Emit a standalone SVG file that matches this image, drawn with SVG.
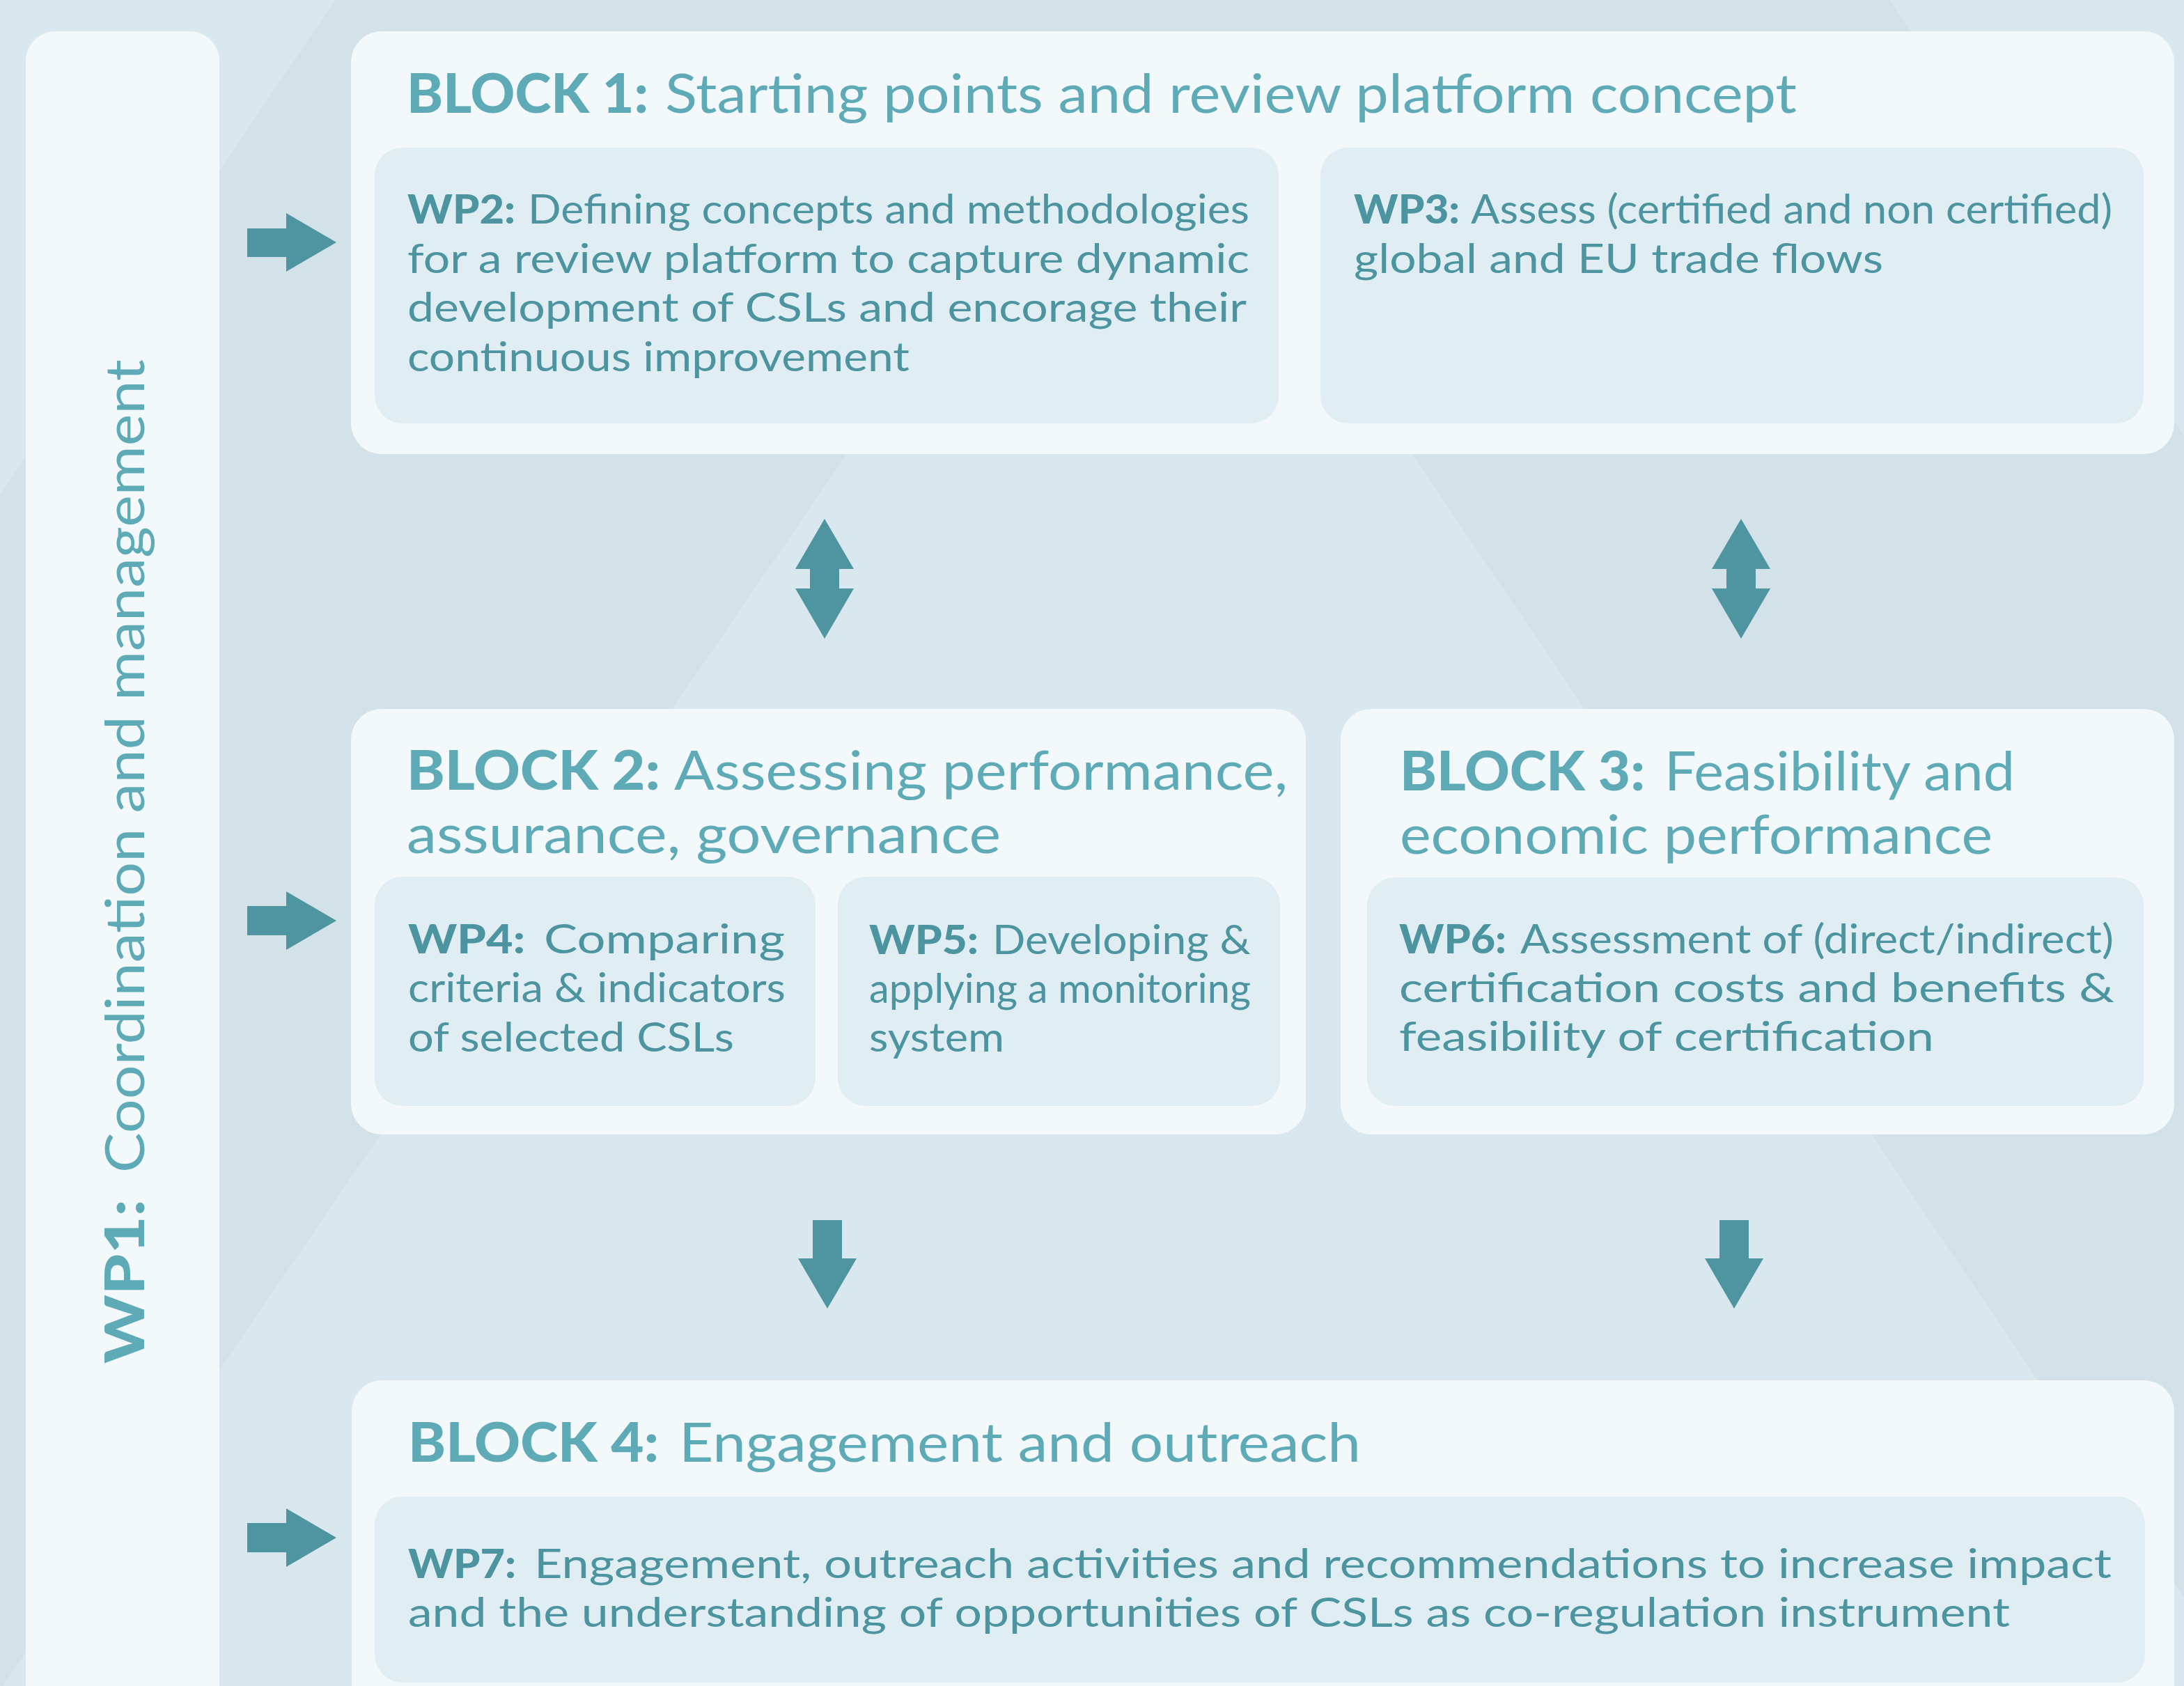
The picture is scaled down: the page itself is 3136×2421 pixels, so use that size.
<svg xmlns="http://www.w3.org/2000/svg" width="3136" height="2421" viewBox="0 0 3136 2421">
<style>
.bg{fill:#d3e1e8}
.bgl{fill:#d9e7ee}
.panel{fill:#f3f8fa}
.box{fill:#e0edf2}
.h{font-family:Lato,"Noto Sans",sans-serif;font-size:78px;fill:#5eaab7}
.t{font-family:Lato,"Noto Sans",sans-serif;font-size:58px;fill:#4b94a0}
.b{font-weight:900}
.arrow{fill:#4e95a1}
</style>
<g id="background">
<rect class="bg" x="0" y="0" width="3136" height="2421"/>
<polygon class="bgl" points="0,0 481,0 0,711"/>
<polygon class="bgl" points="1625,55 3222,2421 4,2421"/>
<polygon class="bgl" points="2714,0 3136,0 3136,625"/>
</g>
<g id="wp1">
<rect class="panel" x="37" y="45" width="278" height="2440" rx="42"/>
<text class="h" transform="translate(207,1958) rotate(-90)"><tspan class="b" x="0" y="0" textLength="236" lengthAdjust="spacingAndGlyphs">WP1:</tspan><tspan x="274" y="0" textLength="1168" lengthAdjust="spacingAndGlyphs">Coordination and management</tspan></text>
</g>
<g id="block1">
<rect class="panel" x="504" y="45" width="2618" height="607" rx="44"/>
<text class="h"><tspan class="b" x="584" y="162" textLength="347" lengthAdjust="spacingAndGlyphs">BLOCK 1:</tspan><tspan x="955" y="162" textLength="1625" lengthAdjust="spacingAndGlyphs">Starting points and review platform concept</tspan></text>
</g>
<g id="wp2">
<rect class="box" x="538" y="212" width="1298" height="396" rx="40"/>
<text class="t"><tspan class="b" x="585" y="321" textLength="155" lengthAdjust="spacingAndGlyphs">WP2:</tspan><tspan x="758" y="321" textLength="1036" lengthAdjust="spacingAndGlyphs">Defining concepts and methodologies</tspan><tspan x="585" y="392" textLength="1209" lengthAdjust="spacingAndGlyphs">for a review platform to capture dynamic</tspan><tspan x="585" y="462" textLength="1205" lengthAdjust="spacingAndGlyphs">development of CSLs and encorage their</tspan><tspan x="585" y="533" textLength="721" lengthAdjust="spacingAndGlyphs">continuous improvement</tspan></text>
</g>
<g id="wp3">
<rect class="box" x="1896" y="212" width="1182" height="396" rx="40"/>
<text class="t"><tspan class="b" x="1944" y="321" textLength="152" lengthAdjust="spacingAndGlyphs">WP3:</tspan><tspan x="2112" y="321" textLength="921" lengthAdjust="spacingAndGlyphs">Assess (certified and non certified)</tspan><tspan x="1944" y="392" textLength="760" lengthAdjust="spacingAndGlyphs">global and EU trade flows</tspan></text>
</g>
<g id="block2">
<rect class="panel" x="504" y="1018" width="1371" height="611" rx="44"/>
<text class="h"><tspan class="b" x="584" y="1134" textLength="364" lengthAdjust="spacingAndGlyphs">BLOCK 2:</tspan><tspan x="968" y="1134" textLength="881" lengthAdjust="spacingAndGlyphs">Assessing performance,</tspan><tspan x="584" y="1225" textLength="853" lengthAdjust="spacingAndGlyphs">assurance, governance</tspan></text>
</g>
<g id="wp4">
<rect class="box" x="538" y="1259" width="633" height="329" rx="40"/>
<text class="t"><tspan class="b" x="586" y="1369" textLength="168" lengthAdjust="spacingAndGlyphs">WP4:</tspan><tspan x="781" y="1369" textLength="346" lengthAdjust="spacingAndGlyphs">Comparing</tspan><tspan x="586" y="1439" textLength="542" lengthAdjust="spacingAndGlyphs">criteria &amp; indicators</tspan><tspan x="586" y="1510" textLength="468" lengthAdjust="spacingAndGlyphs">of selected CSLs</tspan></text>
</g>
<g id="wp5">
<rect class="box" x="1203" y="1259" width="635" height="329" rx="40"/>
<text class="t"><tspan class="b" x="1248" y="1370" textLength="157" lengthAdjust="spacingAndGlyphs">WP5:</tspan><tspan x="1425" y="1370" textLength="371" lengthAdjust="spacingAndGlyphs">Developing &amp;</tspan><tspan x="1248" y="1440" textLength="548" lengthAdjust="spacingAndGlyphs">applying a monitoring</tspan><tspan x="1248" y="1510" textLength="194" lengthAdjust="spacingAndGlyphs">system</tspan></text>
</g>
<g id="block3">
<rect class="panel" x="1925" y="1018" width="1197" height="611" rx="44"/>
<text class="h"><tspan class="b" x="2010" y="1135" textLength="352" lengthAdjust="spacingAndGlyphs">BLOCK 3:</tspan><tspan x="2390" y="1135" textLength="503" lengthAdjust="spacingAndGlyphs">Feasibility and</tspan><tspan x="2010" y="1226" textLength="851" lengthAdjust="spacingAndGlyphs">economic performance</tspan></text>
</g>
<g id="wp6">
<rect class="box" x="1963" y="1260" width="1115" height="328" rx="40"/>
<text class="t"><tspan class="b" x="2009" y="1369" textLength="154" lengthAdjust="spacingAndGlyphs">WP6:</tspan><tspan x="2183" y="1369" textLength="852" lengthAdjust="spacingAndGlyphs">Assessment of (direct/indirect)</tspan><tspan x="2009" y="1439" textLength="1027" lengthAdjust="spacingAndGlyphs">certification costs and benefits &amp;</tspan><tspan x="2009" y="1509" textLength="768" lengthAdjust="spacingAndGlyphs">feasibility of certification</tspan></text>
</g>
<g id="block4">
<rect class="panel" x="505" y="1982" width="2617" height="520" rx="44"/>
<text class="h"><tspan class="b" x="586" y="2099" textLength="360" lengthAdjust="spacingAndGlyphs">BLOCK 4:</tspan><tspan x="975" y="2099" textLength="979" lengthAdjust="spacingAndGlyphs">Engagement and outreach</tspan></text>
</g>
<g id="wp7">
<rect class="box" x="538" y="2149" width="2542" height="267" rx="40"/>
<text class="t"><tspan class="b" x="586" y="2266" textLength="155" lengthAdjust="spacingAndGlyphs">WP7:</tspan><tspan x="767" y="2266" textLength="2265" lengthAdjust="spacingAndGlyphs">Engagement, outreach activities and recommendations to increase impact</tspan><tspan x="586" y="2336" textLength="2300" lengthAdjust="spacingAndGlyphs">and the understanding of opportunities of CSLs as co-regulation instrument</tspan></text>
</g>
<g id="connectors">
<path class="arrow" d="M355,328 H411 V306 L483,348 L411,390 V369 H355 Z"/>
<path class="arrow" d="M355,1301 H411 V1280 L483,1322 L411,1364 V1343 H355 Z"/>
<path class="arrow" d="M355,2187 H411 V2166 L483,2208 L411,2250 V2229 H355 Z"/>
<path class="arrow" d="M1184,745 L1226,817 H1205 V845 H1226 L1184,917 L1142,845 H1163 V817 H1142 Z"/>
<path class="arrow" d="M2500,745 L2542,817 H2521 V845 H2542 L2500,917 L2458,845 H2479 V817 H2458 Z"/>
<path class="arrow" d="M1167,1752 H1209 V1807 H1230 L1188,1879 L1146,1807 H1167 Z"/>
<path class="arrow" d="M2469,1752 H2511 V1807 H2532 L2490,1879 L2448,1807 H2469 Z"/>
</g>
</svg>
